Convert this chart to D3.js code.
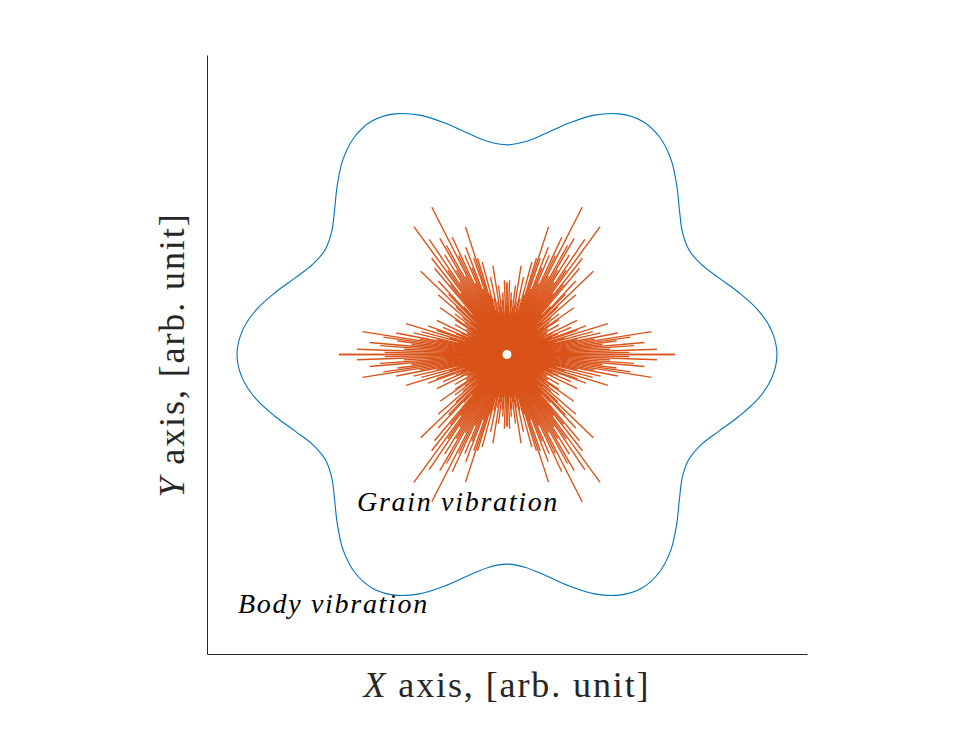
<!DOCTYPE html>
<html>
<head>
<meta charset="utf-8">
<script src="https://cdn.jsdelivr.net/npm/d3@7"></script>
<style>
  body { margin: 0; background: #fff; }
  text { font-family: "Liberation Serif", "DejaVu Serif", serif; fill: #262626; }
</style>
</head>
<body>
<svg width="980" height="735"></svg>
<script>
var svg = d3.select("svg");

// body outline: radius every 5 degrees, starting at 0 deg
var bodyRadius = [
    1.125, 1.108, 1.063, 1.000, 0.938, 0.892, 0.875, 0.892, 0.938, 1.000, 1.063, 1.108,
    1.125, 1.108, 1.063, 1.000, 0.938, 0.892, 0.875, 0.892, 0.938, 1.000, 1.063, 1.108,
    1.125, 1.108, 1.063, 1.000, 0.938, 0.892, 0.875, 0.892, 0.938, 1.000, 1.063, 1.108,
    1.125, 1.108, 1.063, 1.000, 0.938, 0.892, 0.875, 0.892, 0.938, 1.000, 1.063, 1.108,
    1.125, 1.108, 1.063, 1.000, 0.938, 0.892, 0.875, 0.892, 0.938, 1.000, 1.063, 1.108,
    1.125, 1.108, 1.063, 1.000, 0.938, 0.892, 0.875, 0.892, 0.938, 1.000, 1.063, 1.108
];
var bodyStep = 5;

// grain rays in the first quadrant (deg, length); mirrored into the others
var rayAngle = [
    0, 1, 2, 3, 4, 5, 6, 7, 8, 9, 10, 11, 12, 13, 15, 16, 17, 19, 20, 22,
    23, 25, 26, 28, 30, 32, 34, 35, 37, 38, 40, 41, 43, 44, 46, 47, 48, 50,
    51, 52, 53, 54, 55, 56, 57, 58, 59, 60, 61, 62, 63, 64, 65, 66, 67, 68,
    69, 70, 71, 72, 73, 74, 75, 77, 78, 80, 81, 82, 83, 85, 86, 88, 90,
    14, 18, 21, 24, 27, 29, 31, 33, 36, 39, 42, 45, 49, 76, 79, 84, 87, 89
];
var rayLength = [
    0.70, 0.51, 0.625, 0.43, 0.53, 0.575, 0.40, 0.46, 0.52, 0.61, 0.37, 0.47, 0.30, 0.40, 0.37, 0.25, 0.44, 0.31, 0.35, 0.23,
    0.29, 0.21, 0.325, 0.19, 0.25, 0.20, 0.26, 0.34, 0.22, 0.275, 0.24, 0.38, 0.29, 0.50, 0.35, 0.42, 0.27, 0.47,
    0.375, 0.51, 0.32, 0.66, 0.43, 0.58, 0.36, 0.49, 0.41, 0.56, 0.52, 0.37, 0.69, 0.46, 0.54, 0.325, 0.45, 0.39,
    0.48, 0.29, 0.425, 0.56, 0.42, 0.26, 0.40, 0.24, 0.33, 0.225, 0.375, 0.20, 0.29, 0.23, 0.26, 0.31, 0.30,
    0.21, 0.18, 0.20, 0.17, 0.16, 0.18, 0.15, 0.17, 0.19, 0.16, 0.20, 0.18, 0.22, 0.19, 0.17, 0.18, 0.16, 0.20
];
var mirrors = [[1, 1], [-1, 1], [-1, -1], [1, -1]];

var labels = [
    { text: "Grain vibration", x: -0.625, y: -0.654 },
    { text: "Body vibration", x: -1.121, y: -1.079 }
];

var x = d3.scaleLinear().domain([-1.25, 1.25]).range([207, 807]);
var y = d3.scaleLinear().domain([-1.25, 1.25]).range([654, 55]);

// axes: left and bottom lines only, no ticks
svg.append("g")
    .attr("transform", "translate(0,654)")
    .call(d3.axisBottom(x).tickValues([]).tickSizeOuter(0))
    .select(".domain").attr("stroke", "#262626");
svg.append("g")
    .attr("transform", "translate(207,0)")
    .call(d3.axisLeft(y).tickValues([]).tickSizeOuter(0))
    .select(".domain").attr("stroke", "#262626");

// body vibration outline
var line = d3.line()
    .x(function(d, i) { return x(d * Math.cos(i * bodyStep * Math.PI / 180)); })
    .y(function(d, i) { return y(d * Math.sin(i * bodyStep * Math.PI / 180)); })
    .curve(d3.curveCatmullRomClosed);

svg.append("path")
    .datum(bodyRadius)
    .attr("d", line)
    .attr("fill", "none")
    .attr("stroke", "#0072BD")
    .attr("stroke-width", 1.1);

// grain vibration rays
var rays = [];
mirrors.forEach(function(m) {
    rayAngle.forEach(function(a, i) {
        var t = a * Math.PI / 180;
        rays.push({ dx: m[0] * rayLength[i] * Math.cos(t), dy: m[1] * rayLength[i] * Math.sin(t) });
    });
});

svg.append("g")
    .selectAll("line")
    .data(rays)
    .enter()
    .append("line")
    .attr("x1", x(0))
    .attr("y1", y(0))
    .attr("x2", function(d) { return x(d.dx); })
    .attr("y2", function(d) { return y(d.dy); })
    .attr("stroke", "#D95319")
    .attr("stroke-width", 1.4);

svg.append("circle")
    .attr("cx", x(0))
    .attr("cy", y(0))
    .attr("r", 4.5)
    .attr("fill", "#fff");

// annotations
svg.append("g")
    .selectAll("text")
    .data(labels)
    .enter()
    .append("text")
    .attr("x", function(d) { return x(d.x); })
    .attr("y", function(d) { return y(d.y); })
    .style("font-style", "italic")
    .style("font-size", "28px")
    .style("letter-spacing", "1.7px")
    .style("fill", "#000")
    .text(function(d) { return d.text; });

// axis titles
var xt = svg.append("text")
    .attr("x", 507)
    .attr("y", 697)
    .attr("text-anchor", "middle")
    .style("font-size", "36px")
    .style("letter-spacing", "1.9px");
xt.append("tspan").style("font-style", "italic").text("X");
xt.append("tspan").text(" axis, [arb. unit]");

var yt = svg.append("text")
    .attr("transform", "translate(184,355) rotate(-90)")
    .attr("text-anchor", "middle")
    .style("font-size", "36px")
    .style("letter-spacing", "1.9px");
yt.append("tspan").style("font-style", "italic").text("Y");
yt.append("tspan").text(" axis, [arb. unit]");
</script>
</body>
</html>
